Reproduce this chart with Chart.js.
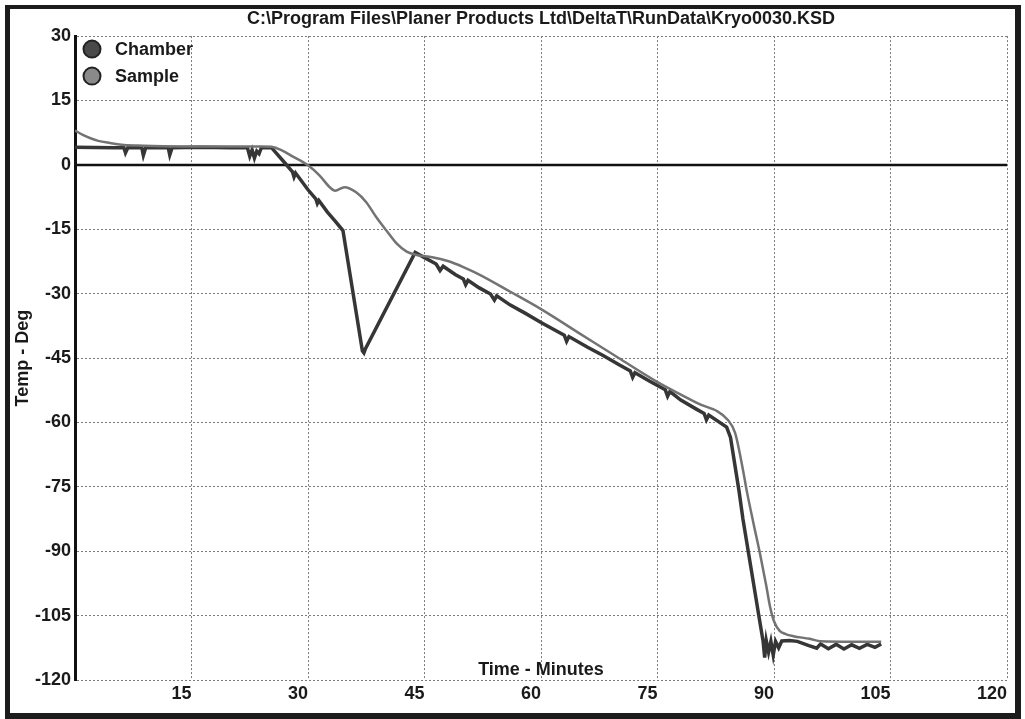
<!DOCTYPE html>
<html lang="en">
<head>
<meta charset="UTF-8">
<title>Kryo0030</title>
<script src="https://cdn.jsdelivr.net/npm/chart.js"></script>
<style>
  body { margin: 0; background: #fff; }
  #wrap { position: relative; width: 1025px; height: 719px; }
  #frame { position: absolute; left: 5px; top: 5px; width: 1005px; height: 704px;
           border-style: solid; border-color: #1c1c1c; border-width: 4px 6px 6px 5px; pointer-events: none; }
  canvas { position: absolute; left: 0; top: 0; }
</style>
<script>
// time (minutes) and temperature (deg)
const chamberTime = [0, 5, 6.3, 6.5, 6.8, 8.6, 8.8, 9.1, 12.0, 12.2, 12.5, 16, 20, 22.2, 22.5, 22.8, 23.1, 23.4, 23.7, 24, 25.3,
  27, 28, 28.2, 28.4, 30, 31, 31.2, 31.4, 32.5, 33.5, 34.5, 37.0, 37.2, 37.4, 43.8,
  45, 46.5, 47, 47.4, 49, 50, 50.3, 50.6, 52, 53.5, 54, 54.3, 56, 58, 60, 62, 63, 63.3, 63.6, 66, 68, 70,
  71.5, 71.8, 72.1, 74, 76, 76.3, 76.6, 78, 80, 81, 81.3, 81.6, 83.9,
  84.4, 85.5, 86, 87, 88, 88.6, 88.8, 89.0, 89.3, 89.6, 89.9, 90.2, 90.6, 91, 92, 93, 94.5, 95.5, 96, 97, 98, 99, 100, 101, 102, 103, 103.8];
const chamberTemp = [4.1, 4.0, 4.0, 2.8, 4.0, 4.0, 2.2, 4.0, 4.0, 2.3, 4.0, 4.1, 4.0, 4.0, 2.0, 3.5, 1.6, 3.2, 2.6, 4.0, 4.0,
  0.5, -1.6, -2.8, -1.9, -5.8, -7.9, -9.0, -8.3, -11.0, -13.1, -15.3, -43.3, -43.8, -42.8, -20.4,
  -21.6, -23.1, -24.6, -23.6, -25.6, -26.6, -27.9, -26.9, -28.6, -30.1, -31.5, -30.5, -32.6, -34.6, -36.7, -38.7, -39.7, -41.1, -40.0, -42.5, -44.4, -46.5,
  -48.0, -49.5, -48.4, -50.4, -52.4, -53.9, -52.8, -54.8, -56.9, -57.9, -59.4, -58.3, -61.1,
  -63.5, -76.0, -82.5, -93.5, -104.5, -111.0, -114.8, -110.8, -113.5, -111.0, -114.2, -111.0, -112.5, -110.9, -110.8, -111.0, -112.0, -112.6, -111.6, -112.7, -111.7, -112.8, -111.8, -112.6, -111.7, -112.4, -111.6];

const sampleTime = [0, 1, 2, 3, 4.5, 6, 8, 10, 15, 20, 24, 25.3, 26.5, 28, 30, 31.5, 32.8, 33.5, 34.7, 36.2, 37.5, 38.8, 40.1, 41.4, 42.7, 44,
  46, 48, 50, 52, 56, 60, 65, 70, 75, 80, 84.1, 85, 86, 86.5, 87.3, 88.2, 89, 89.5, 90, 90.7, 91.5, 92.5, 94.6, 96, 100, 103.8];
const sampleTemp = [8.0, 7.0, 6.2, 5.6, 5.1, 4.7, 4.5, 4.4, 4.3, 4.3, 4.3, 4.2, 3.5, 2.0, -0.1, -2.5, -5.2, -6.0, -5.2, -6.4, -8.7, -12.2, -15.3, -18.3, -20.2, -21.0,
  -21.5, -22.4, -23.8, -25.5, -29.5, -33.6, -39.3, -45.0, -50.6, -55.4, -59.5, -62.5, -71.0, -76.0, -83.0, -90.6, -98.0, -103.0, -106.3, -108.5, -109.3, -109.8, -110.4, -111.0, -111.1, -111.1];

const xTicks = { min: 0, max: 120, step: 15 };
const yTicks = { min: -120, max: 30, step: 15 };
const zeroLine = 0;

const FONT = '"Liberation Sans", Arial, sans-serif';
const boldFont = { family: FONT, size: 18, weight: 'bold' };

const zeroLinePlugin = {
  id: 'zeroLine',
  beforeDatasetsDraw(chart) {
    const { ctx, chartArea, scales } = chart;
    const y = scales.y.getPixelForValue(zeroLine);
    ctx.save();
    ctx.strokeStyle = '#111';
    ctx.lineWidth = 2.5;
    ctx.beginPath();
    ctx.moveTo(chartArea.left, y);
    ctx.lineTo(chartArea.right, y);
    ctx.stroke();
    ctx.restore();
  }
};

// legend in the top-left corner of the plot
const cornerLegend = {
  id: 'cornerLegend',
  afterDatasetsDraw(chart) {
    const { ctx, chartArea } = chart;
    ctx.save();
    ctx.font = 'bold 18px ' + FONT;
    ctx.textBaseline = 'middle';
    chart.data.datasets.forEach((ds, i) => {
      const cx = chartArea.left + 17;
      const cy = chartArea.top + 13 + i * 27;
      ctx.beginPath();
      ctx.arc(cx, cy, 8.5, 0, Math.PI * 2);
      ctx.fillStyle = ds.backgroundColor;
      ctx.fill();
      ctx.lineWidth = 2;
      ctx.strokeStyle = '#222';
      ctx.stroke();
      ctx.fillStyle = '#1a1a1a';
      ctx.fillText(ds.label, cx + 23, cy + 1);
    });
    ctx.restore();
  }
};

function makeChart() {
  const ctx = document.getElementById('chart').getContext('2d');
  new Chart(ctx, {
    type: 'line',
    data: {
      datasets: [{
        label: 'Chamber',
        data: chamberTime.map((t, i) => ({ x: t, y: chamberTemp[i] })),
        borderColor: '#363636',
        backgroundColor: '#4a4a4a',
        borderWidth: 3.5,
        tension: 0,
        pointRadius: 0,
        order: 1
      }, {
        label: 'Sample',
        data: sampleTime.map((t, i) => ({ x: t, y: sampleTemp[i] })),
        borderColor: '#737373',
        backgroundColor: '#8a8a8a',
        borderWidth: 2.5,
        cubicInterpolationMode: 'monotone',
        pointRadius: 0,
        order: 0
      }]
    },
    options: {
      responsive: false,
      animation: false,
      layout: { padding: { left: 0, right: 18, top: 0, bottom: 0 } },
      plugins: {
        legend: { display: false },
        tooltip: { enabled: false },
        title: {
          display: true,
          fullSize: false,
          text: 'C:\\Program Files\\Planer Products Ltd\\DeltaT\\RunData\\Kryo0030.KSD',
          color: '#1a1a1a',
          font: boldFont,
          padding: { top: 8.5, bottom: 6 }
        }
      },
      scales: {
        x: {
          type: 'linear',
          min: xTicks.min,
          max: xTicks.max,
          afterFit: s => { s.height = 39; },
          border: { display: false, dash: [2, 2] },
          grid: { color: '#7a7a7a', lineWidth: 1, drawTicks: false },
          ticks: {
            stepSize: xTicks.step,
            align: 'end',
            padding: 3,
            color: '#1a1a1a',
            font: boldFont,
            callback: v => (v === 0 ? '' : v)
          },
          title: {
            display: true,
            text: 'Time - Minutes',
            color: '#1a1a1a',
            font: boldFont,
            padding: { top: 0, bottom: 38.2 }
          }
        },
        y: {
          min: yTicks.min,
          max: yTicks.max,
          afterFit: s => { s.width = 75; },
          border: { display: true, color: '#111', width: 3, dash: [2, 2] },
          grid: { color: '#7a7a7a', lineWidth: 1, drawTicks: false },
          ticks: {
            stepSize: yTicks.step,
            padding: 4,
            color: '#1a1a1a',
            font: boldFont
          },
          title: {
            display: true,
            text: 'Temp - Deg',
            color: '#1a1a1a',
            font: boldFont,
            padding: { top: 12.2, bottom: 0 }
          }
        }
      }
    },
    plugins: [zeroLinePlugin, cornerLegend]
  });
}

window.onload = makeChart;
</script>
</head>
<body>
<div id="wrap">
  <canvas id="chart" width="1025" height="719"></canvas>
  <div id="frame"></div>
</div>
</body>
</html>
